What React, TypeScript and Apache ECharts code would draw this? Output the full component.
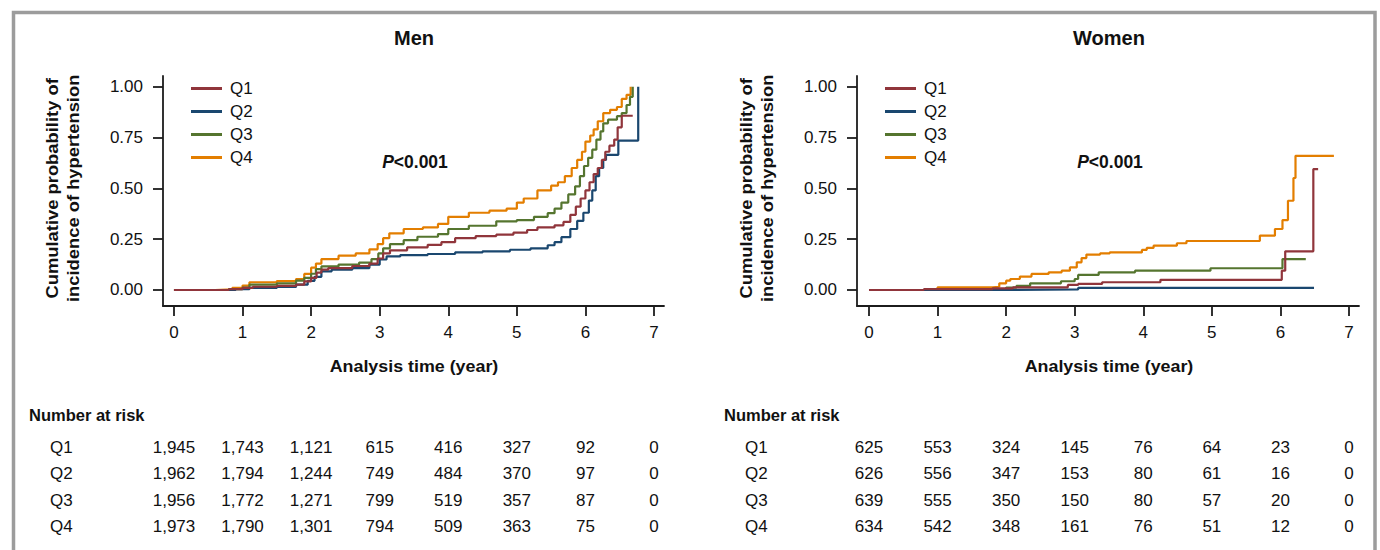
import React, { useEffect, useRef } from 'react';
import * as echarts from 'echarts';

const timeTicks = [0, 1, 2, 3, 4, 5, 6, 7];
const probTicks = [0, 0.25, 0.5, 0.75, 1];
const groups = ['Q1', 'Q2', 'Q3', 'Q4'];
const panelTitles = ['Men', 'Women'];
const colors = ['#90353b', '#1a476f', '#55752f', '#e37e00'];

// Men: [time (year), cumulative probability] — value holds from this time on
const menQ1 = [[0,0],[0.8,0.004],[1.0,0.01],[1.15,0.016],[1.5,0.02],[1.78,0.026],[1.9,0.042],[2.0,0.06],[2.08,0.085],[2.15,0.1],[2.25,0.108],[2.6,0.118],[2.85,0.13],[2.97,0.155],[3.05,0.18],[3.15,0.195],[3.4,0.21],[3.7,0.222],[3.9,0.235],[4.1,0.255],[4.4,0.265],[4.7,0.272],[4.95,0.282],[5.15,0.295],[5.3,0.308],[5.55,0.318],[5.68,0.335],[5.78,0.37],[5.86,0.41],[5.93,0.45],[6.0,0.49],[6.06,0.53],[6.12,0.57],[6.18,0.6],[6.24,0.64],[6.29,0.68],[6.35,0.71],[6.42,0.74],[6.47,0.8],[6.53,0.857],[6.69,0.857]];
const menQ2 = [[0,0],[0.9,0.004],[1.1,0.01],[1.5,0.015],[1.78,0.026],[1.95,0.045],[2.05,0.065],[2.15,0.092],[2.3,0.1],[2.6,0.108],[2.85,0.125],[3.0,0.15],[3.1,0.165],[3.3,0.172],[3.7,0.177],[4.1,0.185],[4.5,0.19],[4.9,0.198],[5.2,0.205],[5.45,0.22],[5.55,0.235],[5.65,0.26],[5.78,0.3],[5.88,0.34],[5.97,0.38],[6.05,0.44],[6.1,0.49],[6.15,0.56],[6.2,0.6],[6.26,0.64],[6.3,0.665],[6.48,0.735],[6.77,1.0]];
const menQ3 = [[0,0],[0.8,0.004],[1.0,0.012],[1.1,0.026],[1.5,0.033],[1.78,0.046],[1.9,0.06],[2.0,0.08],[2.07,0.103],[2.15,0.116],[2.4,0.125],[2.7,0.135],[2.88,0.152],[2.98,0.18],[3.05,0.205],[3.15,0.226],[3.35,0.245],[3.55,0.262],[3.85,0.275],[4.0,0.3],[4.3,0.316],[4.7,0.338],[5.0,0.344],[5.25,0.36],[5.45,0.378],[5.55,0.4],[5.65,0.43],[5.75,0.47],[5.85,0.51],[5.92,0.56],[5.98,0.61],[6.04,0.65],[6.1,0.69],[6.16,0.74],[6.22,0.78],[6.26,0.82],[6.33,0.838],[6.46,0.855],[6.53,0.87],[6.6,0.91],[6.65,0.95],[6.69,1.0]];
const menQ4 = [[0,0],[0.6,0.003],[0.85,0.01],[1.0,0.022],[1.1,0.038],[1.5,0.044],[1.78,0.054],[1.9,0.079],[2.0,0.11],[2.07,0.13],[2.15,0.152],[2.4,0.169],[2.65,0.18],[2.85,0.2],[2.97,0.226],[3.05,0.255],[3.14,0.279],[3.35,0.3],[3.63,0.308],[3.85,0.325],[4.0,0.36],[4.3,0.38],[4.6,0.39],[4.85,0.4],[5.0,0.43],[5.1,0.45],[5.3,0.49],[5.5,0.513],[5.6,0.53],[5.7,0.56],[5.8,0.6],[5.88,0.64],[5.95,0.68],[6.0,0.73],[6.07,0.76],[6.12,0.79],[6.18,0.83],[6.26,0.87],[6.36,0.886],[6.46,0.9],[6.53,0.94],[6.6,0.96],[6.66,1.0]];

// Women
const womenQ1 = [[0,0],[0.8,0.004],[1.8,0.008],[2.1,0.013],[2.9,0.025],[3.05,0.03],[3.4,0.038],[4.25,0.05],[6.02,0.095],[6.07,0.19],[6.48,0.595],[6.55,0.595]];
const womenQ2 = [[0,0],[2.0,0.003],[3.05,0.01],[6.49,0.01]];
const womenQ3 = [[0,0],[1.85,0.005],[2.0,0.012],[2.15,0.02],[2.35,0.033],[2.8,0.043],[3.0,0.054],[3.05,0.074],[3.35,0.087],[3.88,0.095],[4.98,0.107],[6.03,0.152],[6.37,0.152]];
const womenQ4 = [[0,0],[0.9,0.005],[1.0,0.013],[1.8,0.016],[1.9,0.033],[2.0,0.046],[2.06,0.054],[2.2,0.066],[2.37,0.079],[2.62,0.087],[2.81,0.095],[2.93,0.111],[3.03,0.136],[3.1,0.157],[3.17,0.174],[3.37,0.18],[3.51,0.185],[3.98,0.197],[4.05,0.207],[4.15,0.218],[4.49,0.23],[4.63,0.241],[5.7,0.267],[5.92,0.3],[6.03,0.344],[6.11,0.439],[6.19,0.551],[6.22,0.66],[6.78,0.66]];

// Number at risk at years 0..7
const menRiskQ1 = [1945, 1743, 1121, 615, 416, 327, 92, 0];
const menRiskQ2 = [1962, 1794, 1244, 749, 484, 370, 97, 0];
const menRiskQ3 = [1956, 1772, 1271, 799, 519, 357, 87, 0];
const menRiskQ4 = [1973, 1790, 1301, 794, 509, 363, 75, 0];
const womenRiskQ1 = [625, 553, 324, 145, 76, 64, 23, 0];
const womenRiskQ2 = [626, 556, 347, 153, 80, 61, 16, 0];
const womenRiskQ3 = [639, 555, 350, 150, 80, 57, 20, 0];
const womenRiskQ4 = [634, 542, 348, 161, 76, 51, 12, 0];

const curves = [[menQ1, menQ2, menQ3, menQ4], [womenQ1, womenQ2, womenQ3, womenQ4]];
const risks = [[menRiskQ1, menRiskQ2, menRiskQ3, menRiskQ4], [womenRiskQ1, womenRiskQ2, womenRiskQ3, womenRiskQ4]];

const FONT = '"Liberation Sans", Arial, Helvetica, sans-serif';
const AX = '#1c1c1c';

export default function App() {
  const ref = useRef<HTMLDivElement>(null);
  useEffect(() => {
    const chart = echarts.init(ref.current!, undefined, { renderer: 'svg' });
    const grids = [
      { left: 163, top: 76, width: 501, height: 230 },
      { left: 857, top: 76, width: 502, height: 230 },
    ];
    const xMins = [-0.16, -0.175];
    const xAxis = grids.map((_, i) => ({
      type: 'value', gridIndex: i, min: xMins[i], max: 7.146,
      axisLine: { show: true, onZero: false, lineStyle: { color: AX, width: 1.8 } },
      axisTick: { show: true, length: 10, customValues: timeTicks, lineStyle: { color: AX, width: 1.8 } },
      axisLabel: { customValues: timeTicks, margin: 18, fontSize: 17, color: '#111', fontFamily: FONT },
      splitLine: { show: false },
    }));
    const yAxis = grids.map((_, i) => ({
      type: 'value', gridIndex: i, min: -0.0787, max: 1.0526,
      axisLine: { show: true, onZero: false, lineStyle: { color: AX, width: 1.8 } },
      axisTick: { show: true, length: 10, customValues: probTicks, lineStyle: { color: AX, width: 1.8 } },
      axisLabel: { customValues: probTicks, formatter: (v: number) => v.toFixed(2), margin: 20, fontSize: 17, color: '#111', fontFamily: FONT },
      splitLine: { show: false },
    }));
    const series: any[] = [];
    curves.forEach((set, gi) => {
      set.forEach((data, k) => {
        series.push({
          type: 'line', name: groups[k], xAxisIndex: gi, yAxisIndex: gi, step: 'end',
          data, showSymbol: false, symbol: 'none', color: colors[k],
          lineStyle: { color: colors[k], width: 2.2 }, z: 10 - k,
        });
      });
    });
    const legend = grids.map((g) => ({
      left: g.left + 23, top: 75, orient: 'vertical', icon: 'rect', itemWidth: 31, itemHeight: 3,
      itemGap: 6, selectedMode: false, data: groups,
      textStyle: { fontSize: 17, color: '#111', fontFamily: FONT, padding: [0, 0, 0, 3] },
    }));
    chart.setOption({
      animation: false,
      backgroundColor: '#fff',
      grid: grids,
      xAxis, yAxis, series, legend,
    });

    const px = (gi: number, t: number) => chart.convertToPixel({ xAxisIndex: gi } as any, t) as number;
    const py = (gi: number, v: number) => chart.convertToPixel({ yAxisIndex: gi } as any, v) as number;
    const graphic: any[] = [
      { type: 'rect', shape: { x: 13.5, y: 12.5, width: 1361.5, height: 600 }, style: { fill: 'none', stroke: '#9c9c9c', lineWidth: 3.5 }, silent: true },
    ];
    const rowY = [447, 473.5, 500, 526.5];
    const tableLeft = [29, 724];
    grids.forEach((g, gi) => {
      const cx = px(gi, 3.5);
      graphic.push({ type: 'text', x: cx, y: 38, style: { text: panelTitles[gi], font: `bold 20px ${FONT}`, fill: '#111', align: 'center', verticalAlign: 'middle' } });
      graphic.push({ type: 'text', x: cx, y: 366, scaleX: 1.05, style: { text: 'Analysis time (year)', font: `bold 17px ${FONT}`, fill: '#111', align: 'center', verticalAlign: 'middle' } });
      graphic.push({ type: 'text', x: g.left - 100, y: py(gi, 0.5), rotation: Math.PI / 2, scaleX: 1.08, style: { text: 'Cumulative probability of\nincidence of hypertension', font: `bold 17px ${FONT}`, lineHeight: 21, fill: '#111', align: 'center', verticalAlign: 'middle' } });
      graphic.push({ type: 'text', x: cx + 1, y: 162, style: { text: '{i|P}{b|<0.001}', align: 'center', verticalAlign: 'middle', rich: { i: { font: `italic bold 17.5px ${FONT}`, fill: '#111' }, b: { font: `bold 17.5px ${FONT}`, fill: '#111' } } } });
      graphic.push({ type: 'text', x: tableLeft[gi], y: 415, style: { text: 'Number at risk', font: `bold 16.5px ${FONT}`, fill: '#111', align: 'left', verticalAlign: 'middle' } });
      risks[gi].forEach((row, k) => {
        graphic.push({ type: 'text', x: tableLeft[gi] + 21, y: rowY[k], style: { text: groups[k], font: `17px ${FONT}`, fill: '#111', align: 'left', verticalAlign: 'middle' } });
        row.forEach((n, j) => {
          graphic.push({ type: 'text', x: px(gi, timeTicks[j]), y: rowY[k], style: { text: n.toLocaleString('en-US'), font: `17px ${FONT}`, fill: '#111', align: 'center', verticalAlign: 'middle' } });
        });
      });
    });
    chart.setOption({ graphic });
    return () => chart.dispose();
  }, []);
  return <div ref={ref} style={{ position: 'fixed', left: 0, top: 0, width: 1380, height: 550, background: '#fff' }} />;
}
